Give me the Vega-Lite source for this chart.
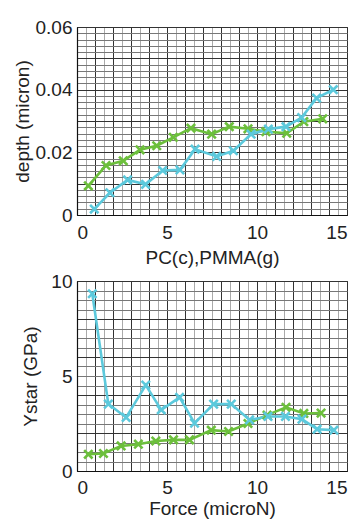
{
  "$schema": "https://vega.github.io/schema/vega-lite/v6.json",
  "background": "white",
  "padding": {"left": 12, "top": 17, "right": 3, "bottom": 2},
  "bounds": "flush",
  "spacing": 66,
  "config": {
    "font": "Liberation Sans",
    "view": {"stroke": "#222", "strokeWidth": 1},
    "axis": {
      "labelFont": "Liberation Sans",
      "titleFont": "Liberation Sans",
      "labelFontSize": 19,
      "titleFontSize": 19,
      "titleFontWeight": "normal",
      "labelColor": "#222",
      "titleColor": "#222",
      "domainColor": "#111",
      "domainWidth": 1.2,
      "ticks": false,
      "labelOverlap": false,
      "gridOpacity": 1,
      "gridWidth": 1
    },
    "legend": {"disable": true}
  },
  "vconcat": [
    {
      "width": 270,
      "height": 188,
      "data": {"values": [
        {"series": "green", "x": 0.63, "y": 0.0093},
        {"series": "green", "x": 1.61, "y": 0.0158},
        {"series": "green", "x": 2.57, "y": 0.0173},
        {"series": "green", "x": 3.5, "y": 0.0208},
        {"series": "green", "x": 4.43, "y": 0.0221},
        {"series": "green", "x": 5.35, "y": 0.0248},
        {"series": "green", "x": 6.33, "y": 0.0277},
        {"series": "green", "x": 7.48, "y": 0.0258},
        {"series": "green", "x": 8.46, "y": 0.0282},
        {"series": "green", "x": 9.5, "y": 0.0275},
        {"series": "green", "x": 10.5, "y": 0.0266},
        {"series": "green", "x": 11.65, "y": 0.0261},
        {"series": "green", "x": 12.6, "y": 0.0298},
        {"series": "green", "x": 13.65, "y": 0.0307},
        {"series": "cyan", "x": 0.96, "y": 0.0019},
        {"series": "cyan", "x": 1.83, "y": 0.0071},
        {"series": "cyan", "x": 2.81, "y": 0.0112},
        {"series": "cyan", "x": 3.81, "y": 0.0098},
        {"series": "cyan", "x": 4.76, "y": 0.0142},
        {"series": "cyan", "x": 5.72, "y": 0.0144},
        {"series": "cyan", "x": 6.56, "y": 0.021},
        {"series": "cyan", "x": 7.76, "y": 0.0187},
        {"series": "cyan", "x": 8.69, "y": 0.0205},
        {"series": "cyan", "x": 9.67, "y": 0.0258},
        {"series": "cyan", "x": 10.63, "y": 0.0274},
        {"series": "cyan", "x": 11.61, "y": 0.0282},
        {"series": "cyan", "x": 12.48, "y": 0.0311},
        {"series": "cyan", "x": 13.31, "y": 0.0373},
        {"series": "cyan", "x": 14.24, "y": 0.04}
      ]},
      "encoding": {
        "x": {
          "field": "x", "type": "quantitative",
          "scale": {"domain": [0, 15], "nice": false, "zero": false},
          "axis": {
            "title": "PC(c),PMMA(g)",
            "values": [0,0.5,1,1.5,2,2.5,3,3.5,4,4.5,5,5.5,6,6.5,7,7.5,8,8.5,9,9.5,10,10.5,11,11.5,12,12.5,13,13.5,14,14.5,15],
            "labelExpr": "datum.value % 5 == 0 ? format(datum.value, 'd') : ''",
            "labelPadding": 8,
            "titlePadding": 6,
            "gridColor": {"condition": {"test": "datum.value % 1 == 0", "value": "#333"}, "value": "#aaa"}
          }
        },
        "y": {
          "field": "y", "type": "quantitative",
          "scale": {"domain": [0, 0.06], "nice": false},
          "axis": {
            "title": "depth (micron)",
            "values": [0,0.002,0.004,0.006,0.008,0.01,0.012,0.014,0.016,0.018,0.02,0.022,0.024,0.026,0.028,0.03,0.032,0.034,0.036,0.038,0.04,0.042,0.044,0.046,0.048,0.05,0.052,0.054,0.056,0.058,0.06],
            "labelExpr": "round(datum.value*1000) % 20 == 0 ? (datum.value == 0 ? '0' : format(datum.value, '.2f')) : ''",
            "labelPadding": 5,
            "titlePadding": 3,
            "gridColor": {"condition": {"test": "round(datum.value*1000) % 10 == 0", "value": "#333"}, "value": "#777"}
          }
        },
        "color": {
          "field": "series", "type": "nominal",
          "scale": {"domain": ["green", "cyan"], "range": ["#6cbf3c", "#5cc9dc"]},
          "legend": null
        }
      },
      "layer": [
        {"mark": {"type": "line", "strokeWidth": 2.6}},
        {"mark": {"type": "point", "shape": "M -1 -1 L 1 1 M -1 1 L 1 -1", "filled": false, "strokeWidth": 2.6, "size": 70, "opacity": 1}}
      ]
    },
    {
      "width": 270,
      "height": 190,
      "data": {"values": [
        {"series": "green", "x": 0.63, "y": 0.88},
        {"series": "green", "x": 1.47, "y": 0.92},
        {"series": "green", "x": 2.45, "y": 1.32},
        {"series": "green", "x": 3.41, "y": 1.41},
        {"series": "green", "x": 4.38, "y": 1.58},
        {"series": "green", "x": 5.36, "y": 1.64},
        {"series": "green", "x": 6.25, "y": 1.64},
        {"series": "green", "x": 7.46, "y": 2.15},
        {"series": "green", "x": 8.42, "y": 2.08},
        {"series": "green", "x": 9.5, "y": 2.5},
        {"series": "green", "x": 10.56, "y": 2.94},
        {"series": "green", "x": 11.61, "y": 3.35},
        {"series": "green", "x": 12.6, "y": 3.03},
        {"series": "green", "x": 13.56, "y": 3.05},
        {"series": "cyan", "x": 0.85, "y": 9.33},
        {"series": "cyan", "x": 1.74, "y": 3.52},
        {"series": "cyan", "x": 2.73, "y": 2.82},
        {"series": "cyan", "x": 3.82, "y": 4.52},
        {"series": "cyan", "x": 4.68, "y": 3.22},
        {"series": "cyan", "x": 5.7, "y": 3.87},
        {"series": "cyan", "x": 6.53, "y": 2.52},
        {"series": "cyan", "x": 7.59, "y": 3.52},
        {"series": "cyan", "x": 8.57, "y": 3.52},
        {"series": "cyan", "x": 9.59, "y": 2.69},
        {"series": "cyan", "x": 10.61, "y": 2.87},
        {"series": "cyan", "x": 11.58, "y": 2.87},
        {"series": "cyan", "x": 12.5, "y": 2.73},
        {"series": "cyan", "x": 13.34, "y": 2.2},
        {"series": "cyan", "x": 14.27, "y": 2.15}
      ]},
      "encoding": {
        "x": {
          "field": "x", "type": "quantitative",
          "scale": {"domain": [0, 15], "nice": false, "zero": false},
          "axis": {
            "title": "Force (microN)",
            "values": [0,0.5,1,1.5,2,2.5,3,3.5,4,4.5,5,5.5,6,6.5,7,7.5,8,8.5,9,9.5,10,10.5,11,11.5,12,12.5,13,13.5,14,14.5,15],
            "labelExpr": "datum.value % 5 == 0 ? format(datum.value, 'd') : ''",
            "labelPadding": 7,
            "titlePadding": 2,
            "gridColor": {"condition": {"test": "datum.value % 1 == 0", "value": "#333"}, "value": "#aaa"}
          }
        },
        "y": {
          "field": "y", "type": "quantitative",
          "scale": {"domain": [0, 10], "nice": false},
          "axis": {
            "title": "Ystar (GPa)",
            "values": [0,0.5,1,1.5,2,2.5,3,3.5,4,4.5,5,5.5,6,6.5,7,7.5,8,8.5,9,9.5,10],
            "labelExpr": "datum.value % 5 == 0 ? format(datum.value, 'd') : ''",
            "labelPadding": 5,
            "titlePadding": 10,
            "gridColor": {"condition": {"test": "datum.value % 2 == 0", "value": "#333"}, "value": "#777"}
          }
        },
        "color": {
          "field": "series", "type": "nominal",
          "scale": {"domain": ["green", "cyan"], "range": ["#6cbf3c", "#5cc9dc"]},
          "legend": null
        }
      },
      "layer": [
        {"mark": {"type": "line", "strokeWidth": 2.6}},
        {"mark": {"type": "point", "shape": "M -1 -1 L 1 1 M -1 1 L 1 -1", "filled": false, "strokeWidth": 2.6, "size": 70, "opacity": 1}}
      ]
    }
  ]
}
